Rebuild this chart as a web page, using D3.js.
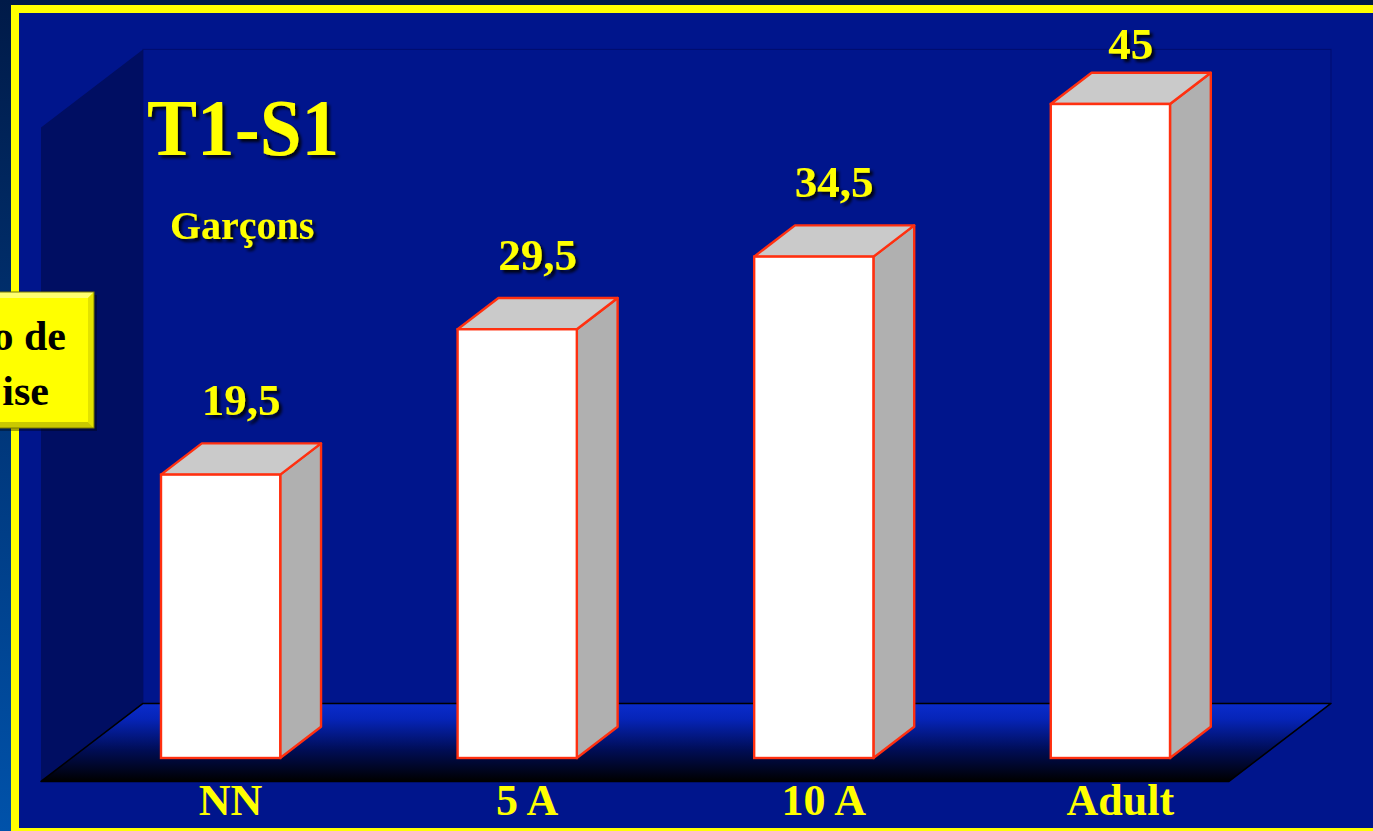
<!DOCTYPE html>
<html>
<head>
<meta charset="utf-8">
<script src="https://cdn.jsdelivr.net/npm/d3@7"></script>
<style>
  html, body { margin: 0; padding: 0; background: #001c4c; overflow: hidden; }
  svg { display: block; }
</style>
</head>
<body>
<svg id="chart" width="1373" height="831"></svg>
<script>
// Chart data
const categories = ["NN", "5 A", "10 A", "Adult"];
const values = [19.5, 29.5, 34.5, 45];
const yDomain = [0, 45];
const titleText = "T1-S1";
const subtitleText = "Garçons";
const calloutLines = ["o de", "ise"];

const W = 1373, H = 831;
const svg = d3.select("#chart");
const defs = svg.append("defs");

// French decimal comma for value labels
const fmt = v => String(v).replace(".", ",");

// Gradients and filters
const pageGrad = defs.append("linearGradient").attr("id", "pageGrad")
  .attr("x1", 0).attr("y1", 0).attr("x2", 0).attr("y2", 1);
pageGrad.append("stop").attr("offset", "0%").attr("stop-color", "#001a48");
pageGrad.append("stop").attr("offset", "100%").attr("stop-color", "#0052aa");

const floorGrad = defs.append("linearGradient").attr("id", "floorGrad")
  .attr("x1", 0).attr("y1", 0).attr("x2", 0).attr("y2", 1);
floorGrad.append("stop").attr("offset", "0%").attr("stop-color", "#0a2ccc");
floorGrad.append("stop").attr("offset", "20%").attr("stop-color", "#0624b8");
floorGrad.append("stop").attr("offset", "60%").attr("stop-color", "#000d55");
floorGrad.append("stop").attr("offset", "100%").attr("stop-color", "#000000");

const shadow = defs.append("filter").attr("id", "txtShadow")
  .attr("x", "-20%").attr("y", "-20%").attr("width", "150%").attr("height", "150%");
shadow.append("feDropShadow").attr("dx", 3).attr("dy", 3)
  .attr("stdDeviation", 1.6).attr("flood-color", "#000000").attr("flood-opacity", 0.85);

// Page background, inner panel and yellow frame
svg.append("rect").attr("width", W).attr("height", H).attr("fill", "url(#pageGrad)");
svg.append("rect").attr("x", 15).attr("y", 9).attr("width", W + 20).attr("height", 823)
  .attr("fill", "#00158c").attr("stroke", "#ffff00").attr("stroke-width", 8);

// Scales
const x = d3.scaleBand().domain(categories).range([161, 1170])
  .paddingInner(0.598).paddingOuter(0);
const y = d3.scaleLinear().domain(yDomain).range([758, 104]);

// 3D geometry: total floor depth vector and bar depth
const floorD = { dx: 102, dy: -78 };
const inset = 0.3;          // bars start this fraction into the floor depth
const barFrac = 0.4;        // bar depth as fraction of floor depth
const barD = { dx: floorD.dx * barFrac, dy: floorD.dy * barFrac };

const floorFrontY = y(0) - floorD.dy * inset;
const floorBackY = y(0) + floorD.dy * (1 - inset);
const wallTopY = y(yDomain[1]) + floorD.dy * (1 - inset);
const frontLeft = 41, frontRight = 1229;
const backLeft = frontLeft + floorD.dx, backRight = frontRight + floorD.dx;

const pts = a => a.map(p => p.join(",")).join(" ");

// Back wall
svg.append("rect").attr("x", backLeft).attr("y", wallTopY)
  .attr("width", backRight - backLeft).attr("height", floorBackY - wallTopY)
  .attr("fill", "#00158c").attr("stroke", "#000d6e").attr("stroke-width", 1);

// Left wall
svg.append("polygon")
  .attr("points", pts([[frontLeft, wallTopY - floorD.dy], [backLeft, wallTopY],
                       [backLeft, floorBackY], [frontLeft, floorFrontY]]))
  .attr("fill", "#000e62");

// Floor
svg.append("polygon")
  .attr("points", pts([[backLeft, floorBackY], [backRight, floorBackY],
                       [frontRight, floorFrontY], [frontLeft, floorFrontY]]))
  .attr("fill", "url(#floorGrad)").attr("stroke", "#000000").attr("stroke-width", 1.5)
  .attr("stroke-linejoin", "round");

// Bars
const bars = svg.append("g").selectAll("g").data(values).join("g");
const stroke = "#ff3010", sw = 2.4;

bars.append("polygon") // side face
  .attr("points", (d, i) => {
    const x1 = x(categories[i]) + x.bandwidth(), yt = y(d), yb = y(0);
    return pts([[x1, yt], [x1 + barD.dx, yt + barD.dy], [x1 + barD.dx, yb + barD.dy], [x1, yb]]);
  })
  .attr("fill", "#b0b0b0").attr("stroke", stroke).attr("stroke-width", sw)
  .attr("stroke-linejoin", "round");

bars.append("polygon") // top face
  .attr("points", (d, i) => {
    const x0 = x(categories[i]), x1 = x0 + x.bandwidth(), yt = y(d);
    return pts([[x0, yt], [x0 + barD.dx, yt + barD.dy], [x1 + barD.dx, yt + barD.dy], [x1, yt]]);
  })
  .attr("fill", "#cacaca").attr("stroke", stroke).attr("stroke-width", sw)
  .attr("stroke-linejoin", "round");

bars.append("rect") // front face
  .attr("x", (d, i) => x(categories[i]))
  .attr("y", d => y(d))
  .attr("width", x.bandwidth())
  .attr("height", d => y(0) - y(d))
  .attr("fill", "#ffffff").attr("stroke", stroke).attr("stroke-width", sw);

const serif = "'Liberation Serif', 'Times New Roman', serif";

// Value labels above the bars
svg.append("g").selectAll("text").data(values).join("text")
  .attr("x", (d, i) => x(categories[i]) + x.bandwidth() / 2 + barD.dx / 2)
  .attr("y", d => Math.max(y(d) + barD.dy - 28, 59))
  .attr("text-anchor", "middle")
  .attr("font-family", serif).attr("font-weight", "bold").attr("font-size", 45)
  .attr("fill", "#ffff00").attr("filter", "url(#txtShadow)")
  .text(d => fmt(d));

// Category axis labels
const xAxis = d3.axisBottom(x).tickSize(0).tickPadding(0);
const axisG = svg.append("g").attr("transform", `translate(10, 815)`).call(xAxis);
axisG.select(".domain").remove();
axisG.selectAll("text")
  .attr("dy", 0).attr("y", 0)
  .attr("font-family", serif).attr("font-weight", "bold").attr("font-size", 44)
  .attr("fill", "#ffff00");

// Title and subtitle
svg.append("text").attr("x", 147).attr("y", 155)
  .attr("font-family", serif).attr("font-weight", "bold").attr("font-size", 80)
  .attr("textLength", 192).attr("lengthAdjust", "spacingAndGlyphs")
  .attr("fill", "#ffff00").attr("filter", "url(#txtShadow)")
  .text(titleText);

svg.append("text").attr("x", 170).attr("y", 239)
  .attr("font-family", serif).attr("font-weight", "bold").attr("font-size", 40)
  .attr("fill", "#ffff00").attr("filter", "url(#txtShadow)")
  .text(subtitleText);

// Yellow callout box on the left edge, with bevelled border
const cb = { x0: -12, x1: 94, y0: 292, y1: 428, b: 6 };
const call = svg.append("g");
call.append("rect").attr("x", cb.x0 + 3).attr("y", cb.y0 + 3)
  .attr("width", cb.x1 - cb.x0).attr("height", cb.y1 - cb.y0)
  .attr("fill", "#000000").attr("opacity", 0.35);
call.append("rect").attr("x", cb.x0).attr("y", cb.y0)
  .attr("width", cb.x1 - cb.x0).attr("height", cb.y1 - cb.y0)
  .attr("fill", "#ffff00");
call.append("polygon") // top bevel
  .attr("points", pts([[cb.x0, cb.y0], [cb.x1, cb.y0], [cb.x1 - cb.b, cb.y0 + cb.b], [cb.x0, cb.y0 + cb.b]]))
  .attr("fill", "#ffff70");
call.append("polygon") // right bevel
  .attr("points", pts([[cb.x1, cb.y0], [cb.x1, cb.y1], [cb.x1 - cb.b, cb.y1 - cb.b], [cb.x1 - cb.b, cb.y0 + cb.b]]))
  .attr("fill", "#e2e200");
call.append("polygon") // bottom bevel
  .attr("points", pts([[cb.x0, cb.y1], [cb.x1, cb.y1], [cb.x1 - cb.b, cb.y1 - cb.b], [cb.x0, cb.y1 - cb.b]]))
  .attr("fill", "#c9c900");
call.append("rect").attr("x", cb.x0).attr("y", cb.y0)
  .attr("width", cb.x1 - cb.x0).attr("height", cb.y1 - cb.y0)
  .attr("fill", "none").attr("stroke", "#7a7a00").attr("stroke-width", 1);

call.selectAll("text").data(calloutLines).join("text")
  .attr("x", (d, i) => i === 0 ? 66 : 49)
  .attr("y", (d, i) => i === 0 ? 350 : 405)
  .attr("text-anchor", "end")
  .attr("font-family", serif).attr("font-weight", "bold").attr("font-size", 42)
  .attr("fill", "#000000")
  .text(d => d);
</script>
</body>
</html>
